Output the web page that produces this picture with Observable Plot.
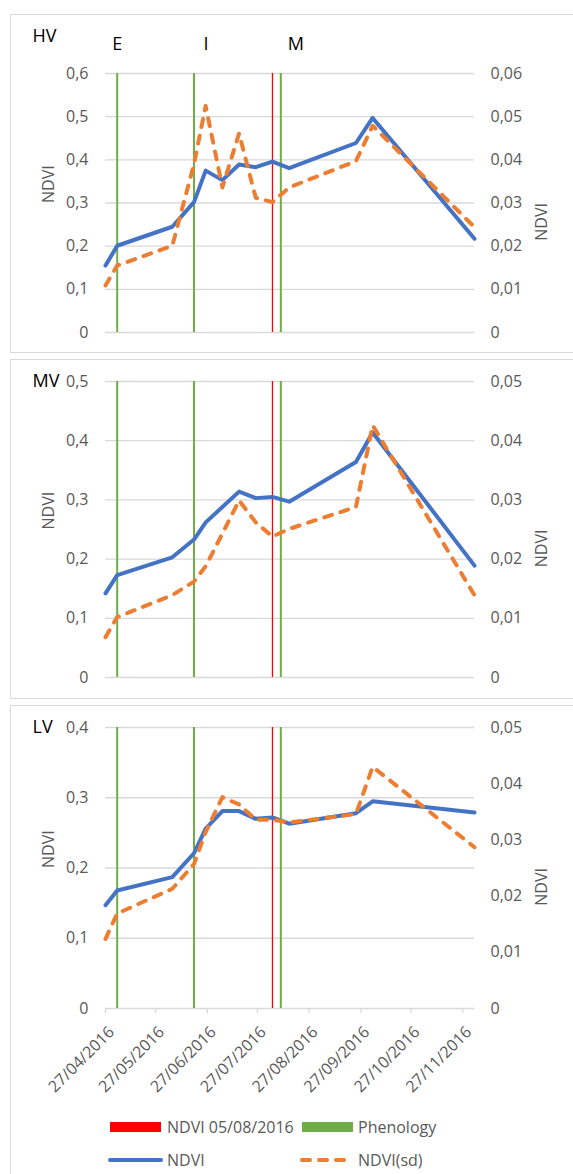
<!DOCTYPE html>
<html>
<head>
<meta charset="utf-8">
<script src="https://cdn.jsdelivr.net/npm/d3@7"></script>
<script src="https://cdn.jsdelivr.net/npm/@observablehq/plot@0.6"></script>
<style>
  html, body { margin: 0; padding: 0; background: #fff; }
  #root { position: relative; width: 573px; height: 1174px; overflow: hidden; font-family: 'Open Sans', sans-serif; }
  .box { position: absolute; border: 1.3px solid #d9d9d9; box-sizing: border-box; }
  .chart { position: absolute; left: 0; }
  .chart svg { overflow: visible; }
</style>
</head>
<body>
<div id="root"></div>
<script>
// ---------- DATA ----------
const dates = ["2016-04-27","2016-05-04","2016-06-06","2016-06-19","2016-06-26","2016-07-06","2016-07-16","2016-07-26","2016-08-05","2016-08-15","2016-09-24","2016-10-04","2016-12-04"];

const hvNdvi = [0.155, 0.201, 0.245, 0.302, 0.375, 0.353, 0.389, 0.383, 0.396, 0.381, 0.439, 0.497, 0.217];
const hvSd   = [0.0109, 0.0155, 0.0201, 0.0390, 0.0525, 0.0336, 0.0461, 0.0312, 0.0302, 0.0336, 0.0397, 0.0479, 0.0244];

const mvNdvi = [0.142, 0.173, 0.203, 0.233, 0.262, 0.288, 0.314, 0.303, 0.305, 0.297, 0.364, 0.414, 0.189];
const mvSd   = [0.0068, 0.0102, 0.0139, 0.0162, 0.0188, 0.0243, 0.0299, 0.0262, 0.0238, 0.0251, 0.0288, 0.0426, 0.0139];

const lvNdvi = [0.147, 0.168, 0.187, 0.221, 0.256, 0.281, 0.281, 0.270, 0.272, 0.263, 0.278, 0.295, 0.279];
const lvSd   = [0.0124, 0.0169, 0.0213, 0.0257, 0.0314, 0.0376, 0.0363, 0.0336, 0.0336, 0.0331, 0.0346, 0.0430, 0.0287];

const phenoLabels = ["E", "I", "M"];
const phenoDates = ["2016-05-04", "2016-06-19", "2016-08-10"];
const redDate = ["2016-08-05"];

const hvLeftTicks  = [0, 0.1, 0.2, 0.3, 0.4, 0.5, 0.6];
const hvRightTicks = [0, 0.01, 0.02, 0.03, 0.04, 0.05, 0.06];
const mvLeftTicks  = [0, 0.1, 0.2, 0.3, 0.4, 0.5];
const mvRightTicks = [0, 0.01, 0.02, 0.03, 0.04, 0.05];
const lvLeftTicks  = [0, 0.1, 0.2, 0.3, 0.4];
const lvRightTicks = [0, 0.01, 0.02, 0.03, 0.04, 0.05];

const xTickDates = ["2016-04-27","2016-05-27","2016-06-27","2016-07-27","2016-08-27","2016-09-27","2016-10-27","2016-11-27"];

const panelNames = ["HV", "MV", "LV"];
const axisTitle = "NDVI";
const legendLabels = ["NDVI 05/08/2016", "Phenology", "NDVI", "NDVI(sd)"];

// ---------- HELPERS ----------
const parse = d3.utcParse("%Y-%m-%d");
const fmt = v => String(+(+v).toFixed(4)).replace(".", ",");
const dateFmt = d3.utcFormat("%d/%m/%Y");
const xDomain = [parse(dates[0]), parse(dates[dates.length - 1])];

const BLUE = "#4472c4", ORANGE = "#ed7d31", GREEN = "#70ad47", RED = "#ff0000", GRID = "#d9d9d9", TXT = "#595959";

const root = document.getElementById("root");

function addBox(left, top, width, height) {
  const b = document.createElement("div");
  b.className = "box";
  Object.assign(b.style, {left: left + "px", top: top + "px", width: width + "px", height: height + "px"});
  root.appendChild(b);
}

function panel({name, ndvi, sd, leftTicks, rightTicks, top, height, marginTop, marginBottom, showX, showPheno}) {
  const leftMax = leftTicks[leftTicks.length - 1];
  const rightMax = rightTicks[rightTicks.length - 1];
  const factor = leftMax / rightMax;
  const rows = dates.map((d, i) => ({date: parse(d), ndvi: ndvi[i], sd: sd[i]}));
  const marks = [
    Plot.ruleY(leftTicks, {stroke: GRID, strokeWidth: 1.3}),
    Plot.axisY(leftTicks, {anchor: "left", tickSize: 0, tickPadding: 17, tickFormat: fmt, label: null, fill: TXT}),
    Plot.axisY(rightTicks.map(v => v * factor), {anchor: "right", tickSize: 0, tickPadding: 16, tickFormat: v => fmt(v / factor), label: null, fill: TXT}),
    Plot.ruleX(phenoDates.map(parse), {stroke: GREEN, strokeWidth: 2}),
    Plot.ruleX(redDate.map(parse), {stroke: RED, strokeWidth: 1.3}),
    Plot.line(rows, {x: "date", y: "ndvi", stroke: BLUE, strokeWidth: 4, strokeLinejoin: "round", strokeLinecap: "round"}),
    Plot.line(rows, {x: "date", y: d => d.sd * factor, stroke: ORANGE, strokeWidth: 4, strokeLinejoin: "round", strokeLinecap: "round", strokeDasharray: "8,9"}),
    Plot.text([axisTitle], {frameAnchor: "left", dx: -57, rotate: -90, fill: TXT, fontSize: 16}),
    Plot.text([axisTitle], {frameAnchor: "right", dx: 67, rotate: -90, fill: TXT, fontSize: 16}),
    Plot.text([name], {frameAnchor: "top-left", lineAnchor: "middle", dx: -73, dy: showPheno ? -37 : 0, textAnchor: "start", fill: "#000", fontSize: 18})
  ];
  if (showPheno) {
    const offs = [0, 12, 15];
    phenoLabels.forEach((lab, i) => {
      marks.push(Plot.text([lab], {x: () => parse(phenoDates[i]), frameAnchor: "top", lineAnchor: "middle", dx: offs[i], dy: -29, fill: "#000", fontSize: 18}));
    });
  }
  if (showX) {
    marks.push(Plot.axisX(xTickDates.map(parse), {tickSize: 5, tickFormat: () => "", label: null, stroke: GRID, strokeWidth: 1.3}));
    marks.push(Plot.axisX(xTickDates.map(parse), {tickSize: 0, tickPadding: 9, tickRotate: -45, tickFormat: dateFmt, label: null, fill: TXT, fontSize: 16, dx: 6, dy: 12}));
  }
  const svg = Plot.plot({
    width: 573, height, marginLeft: 105, marginRight: 99, marginTop, marginBottom,
    style: {fontFamily: "'Open Sans', sans-serif", fontSize: "16px", color: TXT, background: "transparent", overflow: "visible"},
    x: {type: "utc", domain: xDomain, axis: showX ? undefined : null},
    y: {domain: [0, leftMax], axis: null},
    marks
  });
  const wrap = document.createElement("div");
  wrap.className = "chart";
  wrap.style.top = top + "px";
  wrap.appendChild(svg);
  root.appendChild(wrap);
}

// boxes
addBox(10, 14, 570, 339);
addBox(10, 359, 570, 340);
addBox(10, 705, 570, 480);

panel({name: panelNames[0], ndvi: hvNdvi, sd: hvSd, leftTicks: hvLeftTicks, rightTicks: hvRightTicks, top: 14, height: 339, marginTop: 59, marginBottom: 21, showX: false, showPheno: true});
panel({name: panelNames[1], ndvi: mvNdvi, sd: mvSd, leftTicks: mvLeftTicks, rightTicks: mvRightTicks, top: 360, height: 338, marginTop: 21, marginBottom: 21, showX: false, showPheno: false});
panel({name: panelNames[2], ndvi: lvNdvi, sd: lvSd, leftTicks: lvLeftTicks, rightTicks: lvRightTicks, top: 705, height: 400, marginTop: 22, marginBottom: 97, showX: true, showPheno: false});

// ---------- LEGEND ----------
const ns = "http://www.w3.org/2000/svg";
const leg = document.createElementNS(ns, "svg");
leg.setAttribute("width", 573); leg.setAttribute("height", 70);
leg.style.position = "absolute"; leg.style.left = "0px"; leg.style.top = "1105px";
function el(tag, attrs, text) {
  const e = document.createElementNS(ns, tag);
  for (const k in attrs) e.setAttribute(k, attrs[k]);
  if (text != null) e.textContent = text;
  leg.appendChild(e);
  return e;
}
const r1 = 22, r2 = 55;
el("rect", {x: 110, y: r1 - 5, width: 51, height: 10, fill: RED});
el("text", {x: 167, y: r1, "dominant-baseline": "central", fill: TXT, "font-size": 16, "font-family": "'Open Sans', sans-serif"}, legendLabels[0]);
el("rect", {x: 302, y: r1 - 5, width: 51, height: 10, fill: GREEN});
el("text", {x: 358, y: r1, "dominant-baseline": "central", fill: TXT, "font-size": 16, "font-family": "'Open Sans', sans-serif"}, legendLabels[1]);
el("line", {x1: 110, x2: 161, y1: r2, y2: r2, stroke: BLUE, "stroke-width": 4, "stroke-linecap": "round"});
el("text", {x: 167, y: r2, "dominant-baseline": "central", fill: TXT, "font-size": 16, "font-family": "'Open Sans', sans-serif"}, legendLabels[2]);
el("line", {x1: 302, x2: 347, y1: r2, y2: r2, stroke: ORANGE, "stroke-width": 4, "stroke-linecap": "round", "stroke-dasharray": "8,9"});
el("text", {x: 358, y: r2, "dominant-baseline": "central", fill: TXT, "font-size": 16, "font-family": "'Open Sans', sans-serif"}, legendLabels[3]);
root.appendChild(leg);
</script>
</body>
</html>
